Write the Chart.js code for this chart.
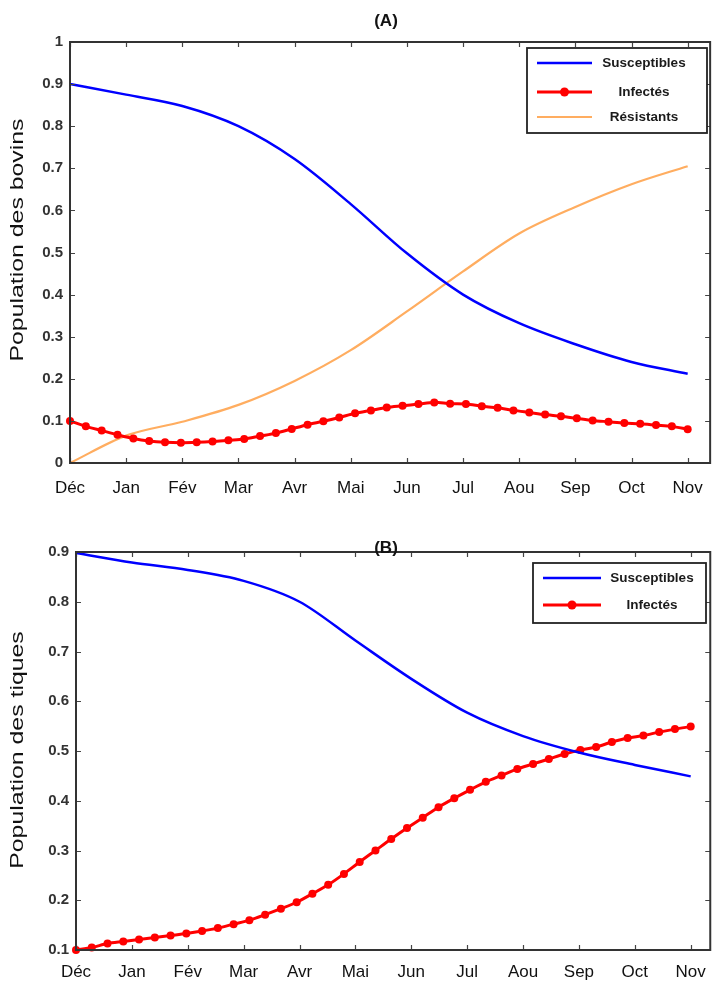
<!DOCTYPE html>
<html><head><meta charset="utf-8">
<script src="https://cdn.jsdelivr.net/npm/chart.js"></script>
<style>
html,body{margin:0;padding:0;background:#fff;}
#wrap{position:relative;width:718px;height:983px;overflow:hidden;}
.panel{position:absolute;left:0;}
</style></head><body>
<div id="wrap">
<div class="panel" style="top:0"><canvas id="cA" width="718" height="500"></canvas></div>
<div class="panel" style="top:500px"><canvas id="cB" width="718" height="483"></canvas></div>
</div>
<script>
// ---------- data ----------
const MONTHS = ['Déc','Jan','Fév','Mar','Avr','Mai','Jun','Jul','Aou','Sep','Oct','Nov'];
const MONTH_POS = [0,1,2,3,4,5,6,7,8,9,10,11];
const A_Y_TICKS = [0,0.1,0.2,0.3,0.4,0.5,0.6,0.7,0.8,0.9,1];
const B_Y_TICKS = [0.1,0.2,0.3,0.4,0.5,0.6,0.7,0.8,0.9];

// Panel A (bovins), monthly readings
const A_SUSC = [0.900,0.875,0.848,0.800,0.722,0.615,0.498,0.400,0.332,0.282,0.240,0.212];
const A_RES  = [0.000,0.065,0.098,0.138,0.195,0.268,0.360,0.455,0.545,0.608,0.662,0.705];
// Panel A infected, 40 sampled points (Déc .. Nov)
const A_INF = [0.100,0.087,0.077,0.067,0.058,0.052,0.049,0.048,0.049,0.051,0.054,0.057,
               0.064,0.071,0.081,0.091,0.099,0.108,0.118,0.125,0.132,0.136,0.140,0.144,
               0.141,0.140,0.135,0.131,0.125,0.120,0.115,0.111,0.106,0.101,0.098,0.095,
               0.093,0.090,0.087,0.080];

// Panel B (tiques)
const B_SUSC = [0.898,0.879,0.864,0.842,0.800,0.722,0.645,0.577,0.530,0.497,0.472,0.449];
const B_INF = [0.100,0.105,0.113,0.117,0.121,0.125,0.129,0.133,0.138,0.144,0.152,0.160,
               0.171,0.183,0.196,0.213,0.231,0.253,0.277,0.300,0.323,0.345,0.366,0.387,
               0.405,0.422,0.438,0.451,0.464,0.474,0.484,0.494,0.502,0.508,0.518,0.526,
               0.531,0.538,0.544,0.549];

// sampling times of the 40 marked points (months from Déc to Nov)
const N_INF = A_INF.length;
const T_INF = A_INF.map((_, i) => i * 11 / (N_INF - 1));

// ---------- helpers ----------
const FONT = '"Liberation Sans", Arial, sans-serif';
const pts = (xs, ys) => xs.map((x, i) => ({x, y: ys[i]}));
const fmtY = v => (Math.abs(v) < 1e-9 ? '0' : Math.abs(v - 1) < 1e-9 ? '1' : v.toFixed(1));

const framePlugin = {
  id: 'frame',
  afterDatasetsDraw(chart, args, opts) {
    const {ctx, chartArea: ca, scales: {x, y}} = chart;
    ctx.save();
    // inward tick marks
    ctx.strokeStyle = '#444';
    ctx.lineWidth = 1.2;
    ctx.beginPath();
    x.ticks.forEach(t => {
      const px = Math.round(x.getPixelForValue(t.value)) + 0.5;
      ctx.moveTo(px, ca.bottom); ctx.lineTo(px, ca.bottom - 5);
      ctx.moveTo(px, ca.top); ctx.lineTo(px, ca.top + 5);
    });
    y.ticks.forEach(t => {
      const py = Math.round(y.getPixelForValue(t.value)) + 0.5;
      ctx.moveTo(ca.left, py); ctx.lineTo(ca.left + 5, py);
      ctx.moveTo(ca.right, py); ctx.lineTo(ca.right - 5, py);
    });
    ctx.stroke();
    // box
    ctx.strokeStyle = '#333';
    ctx.lineWidth = 2;
    ctx.strokeRect(ca.left, ca.top, ca.right - ca.left, ca.bottom - ca.top);

    // legend
    const lg = opts.legend;
    ctx.fillStyle = '#fff';
    ctx.fillRect(lg.box[0], lg.box[1], lg.box[2] - lg.box[0], lg.box[3] - lg.box[1]);
    ctx.strokeStyle = '#222';
    ctx.lineWidth = 1.8;
    ctx.strokeRect(lg.box[0], lg.box[1], lg.box[2] - lg.box[0], lg.box[3] - lg.box[1]);
    chart.data.datasets.forEach((ds, i) => {
      const ry = lg.rows[i];
      ctx.strokeStyle = ds.borderColor;
      ctx.lineWidth = ds.borderWidth;
      ctx.beginPath(); ctx.moveTo(lg.lineX[0], ry); ctx.lineTo(lg.lineX[1], ry); ctx.stroke();
      if (ds.pointRadius > 0) {
        ctx.fillStyle = ds.pointBackgroundColor;
        ctx.beginPath(); ctx.arc((lg.lineX[0] + lg.lineX[1]) / 2, ry, ds.pointRadius + 0.5, 0, Math.PI * 2); ctx.fill();
      }
      ctx.fillStyle = '#1a1a1a';
      ctx.font = 'bold 13.5px ' + FONT;
      ctx.textAlign = 'center';
      ctx.textBaseline = 'middle';
      ctx.fillText(ds.label, lg.textX, ry);
    });

    // panel title
    ctx.fillStyle = '#111';
    ctx.font = 'bold 17px ' + FONT;
    ctx.textAlign = 'center';
    ctx.textBaseline = 'middle';
    ctx.fillText(opts.title, opts.titleX, opts.titleY);

    // y-axis title (rotated, stretched along its length like the reference)
    ctx.translate(opts.yTitleX, opts.yTitleY);
    ctx.rotate(-Math.PI / 2);
    ctx.scale(1.38, 1);
    ctx.font = '18px ' + FONT;
    ctx.fillStyle = '#111';
    ctx.fillText(opts.yTitle, 0, 0);
    ctx.restore();
  }
};

function makeOptions(p) {
  return {
    responsive: false,
    animation: false,
    events: [],
    layout: {padding: {top: p.top, right: p.right, left: 0, bottom: 0}},
    scales: {
      x: {
        type: 'linear', min: 0, max: p.xmax,
        afterBuildTicks: s => { s.ticks = MONTH_POS.map(v => ({value: v})); },
        afterFit: s => { s.height = p.xh; },
        ticks: {
          callback: v => MONTHS[Math.round(v)],
          autoSkip: false, maxRotation: 0, minRotation: 0,
          color: '#111', padding: p.xpad,
          font: {family: FONT, size: 17}
        },
        grid: {display: false, drawTicks: false},
        border: {display: false}
      },
      y: {
        min: p.ymin, max: p.ymax,
        afterBuildTicks: s => { s.ticks = p.yticks.map(v => ({value: v})); },
        afterFit: s => { s.width = p.yw; },
        ticks: {
          callback: fmtY, color: '#333', padding: 7,
          font: {family: FONT, size: 15, weight: 'bold'}
        },
        grid: {display: false, drawTicks: false},
        border: {display: false},
        title: {display: false}
      }
    },
    plugins: {
      legend: {display: false},
      tooltip: {enabled: false},
      frame: p.frame
    }
  };
}

const lineStyle = {tension: 0.35, cubicInterpolationMode: 'monotone', clip: false};

new Chart(document.getElementById('cA'), {
  type: 'line',
  data: {datasets: [
    Object.assign({label: 'Susceptibles', data: pts(MONTH_POS, A_SUSC), borderColor: '#0000ff',
      borderWidth: 2.5, pointRadius: 0, pointBackgroundColor: '#0000ff'}, lineStyle),
    {label: 'Infectés', data: pts(T_INF, A_INF), borderColor: '#ff0000', borderWidth: 3,
      pointRadius: 4, pointBackgroundColor: '#ff0000', pointBorderColor: '#ff0000', pointBorderWidth: 0,
      tension: 0.3, clip: false},
    Object.assign({label: 'Résistants', data: pts(MONTH_POS, A_RES), borderColor: '#ffad60',
      borderWidth: 2.2, pointRadius: 0, pointBackgroundColor: '#ffad60'}, lineStyle)
  ]},
  options: makeOptions({
    top: 42, right: 6, xmax: 11.4, xh: 37, xpad: 15, yw: 70,
    ymin: 0, ymax: 1, yticks: A_Y_TICKS,
    frame: {title: '(A)', titleX: 386, titleY: 21,
      yTitle: 'Population des bovins', yTitleX: 18, yTitleY: 240,
      legend: {box: [527, 48, 707, 133], rows: [63, 92, 117], lineX: [537, 592], textX: 644}}
  }),
  plugins: [framePlugin]
});

new Chart(document.getElementById('cB'), {
  type: 'line',
  data: {datasets: [
    Object.assign({label: 'Susceptibles', data: pts(MONTH_POS, B_SUSC), borderColor: '#0000ff',
      borderWidth: 2.5, pointRadius: 0, pointBackgroundColor: '#0000ff'}, lineStyle),
    {label: 'Infectés', data: pts(T_INF, B_INF), borderColor: '#ff0000', borderWidth: 3,
      pointRadius: 4, pointBackgroundColor: '#ff0000', pointBorderColor: '#ff0000', pointBorderWidth: 0,
      tension: 0.3, clip: false}
  ]},
  options: makeOptions({
    top: 52, right: 6, xmax: 11.35, xh: 33, xpad: 12, yw: 76,
    ymin: 0.1, ymax: 0.9, yticks: B_Y_TICKS,
    frame: {title: '(B)', titleX: 386, titleY: 48,
      yTitle: 'Population des tiques', yTitleX: 18, yTitleY: 250,
      legend: {box: [533, 63, 706, 123], rows: [78, 105], lineX: [543, 601], textX: 652}}
  }),
  plugins: [framePlugin]
});
</script>
</body></html>
